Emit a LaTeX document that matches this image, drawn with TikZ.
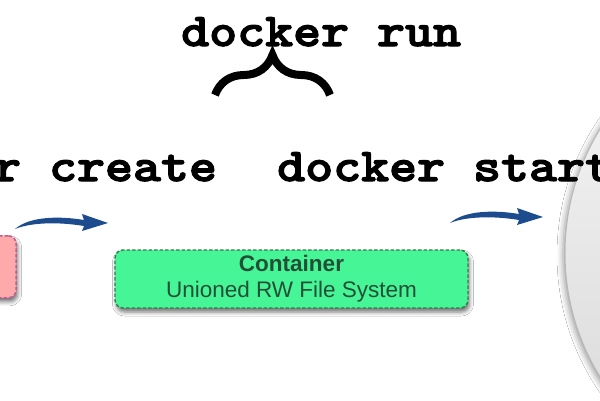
\documentclass[tikz,border=0pt]{standalone}
\usepackage{fontspec}
\usepackage{graphicx}
\setmainfont{Liberation Sans}
\usetikzlibrary{shadows.blur,decorations.pathreplacing,arrows.meta}
\definecolor{cgreen}{HTML}{46F596}
\definecolor{cgreenline}{HTML}{2E7D4C}
\definecolor{cgreentext}{HTML}{244F37}
\definecolor{cpink}{HTML}{FFAAAA}
\definecolor{cpinkline}{HTML}{C45A92}
\definecolor{carrow}{HTML}{1C4C8E}
\newcommand{\cmdtext}[1]{\special{pdf:code q 2 Tr 1.1 w}\scalebox{1.134}[1]{\ttfamily\bfseries\fontsize{47}{47}\selectfont #1}\special{pdf:code Q}}
\tikzset{
  cmd/.style={anchor=base west, inner sep=0pt},
  softshadow/.style={blur shadow={shadow xshift=1.5pt, shadow yshift=-4pt, shadow blur radius=4pt, shadow opacity=55}},
  greenbox/.style={draw=cgreenline, fill=cgreen, line width=1.4pt, dash pattern=on 3.5pt off 2pt,
    rounded corners=8pt, softshadow, text=cgreentext, align=center,
    font=\fontsize{22.5}{26}\selectfont},
  pinkbox/.style={draw=cpinkline, fill=cpink, line width=1.6pt, dash pattern=on 3.5pt off 2pt,
    rounded corners=8pt, softshadow},
  diskstyle/.style={circle, draw=gray!55, line width=1pt, top color=gray!6, bottom color=gray!32,
    blur shadow={shadow xshift=-2pt, shadow yshift=-2pt, shadow blur radius=6pt, shadow opacity=40}},
  bluearrow/.pic={
    \fill[carrow] (0,0) .. controls (15,-13) and (45,-13) .. (69,-9) -- (67,-15) -- (93,-6) -- (67,2) -- (69,-3)
      .. controls (45,-7) and (17,-7) .. (0,0) -- cycle;
  }
}
\begin{document}
\begin{tikzpicture}[x=1pt,y=-1pt]
\useasboundingbox (0,0) rectangle (600,400);
\clip (0,0) rectangle (600,400);
\fill[white] (0,0) rectangle (600,400);

% big disk on the right
\node (disk) [diskstyle, minimum size=472pt, inner sep=0pt] at (801,253) {};

% command labels
\node (run) [cmd] at (181,46) {\cmdtext{docker run}};
\node (create) [cmd] at (-147,181) {\cmdtext{docker create}};
\node (start) [cmd] at (277,181) {\cmdtext{docker start}};

% brace under "docker run"
\draw[decorate, decoration={brace, amplitude=40pt}, line width=8pt] (215,95) -- (330,95);

% boxes
\node (image) [pinkbox, minimum width=90pt, minimum height=62pt, anchor=north east] at (17,235) {};
\node (container) [greenbox, minimum width=353pt, minimum height=58pt, inner sep=0pt] at (291.5,279)
  {\textbf{Container}\\Unioned RW File System};

% arrows
\coordinate (a1) at (15,229);
\coordinate (a2) at (450,223);
\pic at (a1) {bluearrow};
\pic at (a2) {bluearrow};
\end{tikzpicture}
\end{document}
